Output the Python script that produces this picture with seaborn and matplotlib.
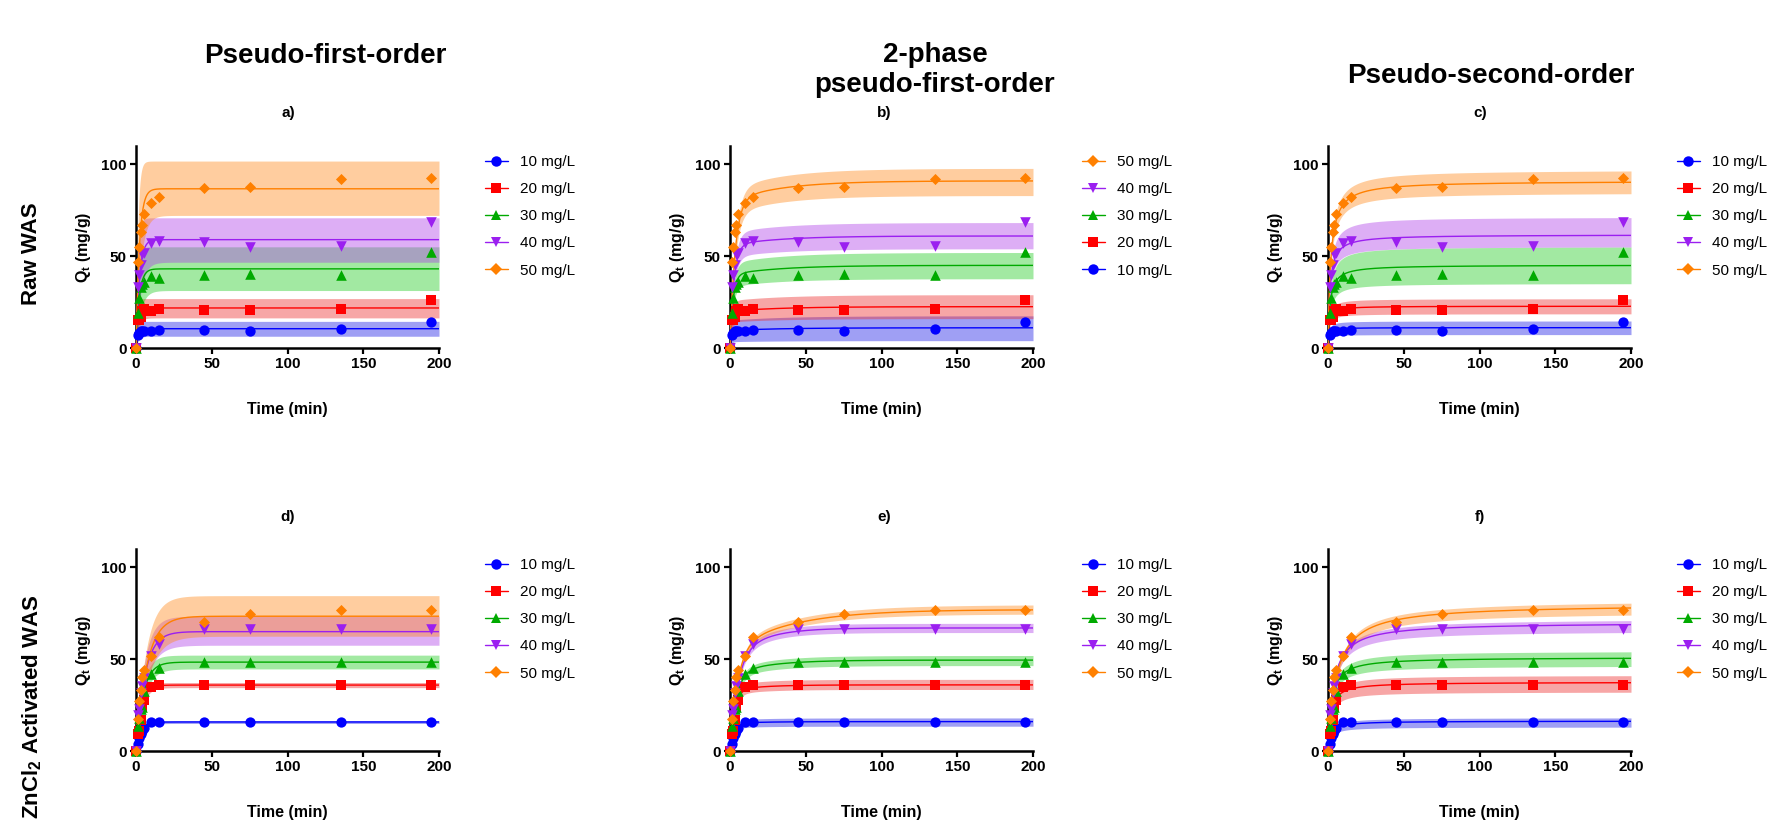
import numpy as np
import matplotlib
matplotlib.use("Agg")
import matplotlib.pyplot as plt
from matplotlib.lines import Line2D
import seaborn as sns

# ---------------- data ----------------
time_min = [0, 1, 2, 3, 4, 5, 10, 15, 45, 75, 135, 195]
conc_labels = ["10 mg/L", "20 mg/L", "30 mg/L", "40 mg/L", "50 mg/L"]

raw_10 = [0, 7, 8, 9, 9, 9.5, 9.5, 10, 10, 9.1, 10.5, 14.2]
raw_20 = [0, 15, 15.5, 17, 20, 21, 20, 21.5, 20.9, 20.9, 21.3, 26]
raw_30 = [0, 19, 27, 33, 35, 36, 39, 38.2, 39.6, 40.4, 39.6, 52.2]
raw_40 = [0, 33, 40, 45, 51, 52, 57.3, 58.2, 57.6, 55.1, 55.5, 68.7]
raw_50 = [0, 47, 55, 63, 67, 73, 79, 82.4, 87.3, 87.8, 92.2, 92.4]

act_10 = [0, 4, 7, 9, 11, 12.5, 15.8, 15.8, 15.8, 15.8, 15.8, 15.8]
act_20 = [0, 9.4, 11, 17, 24, 28, 34.8, 35.9, 35.9, 35.9, 35.9, 35.9]
act_30 = [0, 13.6, 18, 22.6, 24, 32.6, 42, 45.3, 48.4, 48.4, 48.4, 48.4]
act_40 = [0, 19.6, 22.6, 31.7, 35.3, 40, 51.6, 58.5, 66.7, 66.7, 66.7, 66.7]
act_50 = [0, 17.6, 27, 33, 40.4, 44, 52, 62.1, 70.3, 74.8, 76.6, 77]

# fitted model parameters (per concentration 10..50)
# a) pseudo-first-order, raw
pfo_raw_qe = [10.5, 21.8, 43.1, 59.0, 86.7]
pfo_raw_k = [0.9, 0.8, 0.45, 0.45, 0.45]
pfo_raw_hi = [14.5, 26.9, 55.1, 70.9, 101.8]
pfo_raw_lo = [6.4, 16.4, 31.3, 46.7, 72.2]
# b) two-phase pseudo-first-order, raw
pfo2_raw_q1 = [9.5, 20.0, 40.0, 56.0, 80.0]
pfo2_raw_k1 = [1.0, 0.8, 0.5, 0.4, 0.3]
pfo2_raw_q2 = [1.5, 2.5, 5.0, 5.0, 11.0]
pfo2_raw_k2 = [0.03, 0.03, 0.03, 0.03, 0.03]
pfo2_raw_hi = [17.5, 29.0, 52.0, 68.3, 97.8]
pfo2_raw_lo = [4.0, 16.0, 37.7, 54.0, 83.0]
# c) pseudo-second-order, raw
pso_raw_qe = [11.1, 22.8, 45.2, 61.7, 91.0]
pso_raw_k = [0.177, 0.062, 0.017, 0.0133, 0.0066]
pso_raw_hi = [14.7, 26.8, 55.0, 71.0, 96.4]
pso_raw_lo = [7.3, 18.6, 35.0, 55.0, 84.0]
# d) pseudo-first-order, ZnCl2 activated
pfo_act_qe = [15.8, 35.9, 48.4, 65.0, 73.4]
pfo_act_k = [0.3, 0.3, 0.21, 0.17, 0.14]
pfo_act_hi = [16.6, 37.3, 52.2, 73.4, 84.6]
pfo_act_lo = [15.0, 34.5, 44.7, 57.6, 62.5]
# e) two-phase pseudo-first-order, ZnCl2 activated
pfo2_act_q1 = [15.0, 33.0, 42.0, 50.0, 55.0]
pfo2_act_k1 = [0.4, 0.35, 0.25, 0.2, 0.2]
pfo2_act_q2 = [1.0, 3.0, 7.5, 17.0, 22.0]
pfo2_act_k2 = [0.05, 0.05, 0.04, 0.05, 0.025]
pfo2_act_hi = [18.0, 39.0, 52.0, 69.5, 79.5]
pfo2_act_lo = [13.5, 33.5, 46.5, 64.5, 74.5]
# f) pseudo-second-order, ZnCl2 activated
pso_act_qe = [16.3, 37.5, 51.0, 70.0, 80.0]
pso_act_k = [0.034, 0.016, 0.0092, 0.0041, 0.0023]
pso_act_hi = [18.0, 41.0, 54.0, 71.0, 80.5]
pso_act_lo = [13.0, 32.0, 46.0, 64.5, 74.0]

col_titles = ["Pseudo-first-order", "2-phase\npseudo-first-order", "Pseudo-second-order"]
panel_letters = ["a)", "b)", "c)", "d)", "e)", "f)"]
row_labels = ["Raw WAS", r"ZnCl$_\mathbf{2}$ Activated WAS"]
x_label = "Time (min)"
y_label = r"Q$_\mathbf{t}$ (mg/g)"
x_ticks = [0, 50, 100, 150, 200]
y_ticks = [0, 50, 100]

# ---------------- style ----------------
colors = ["#0000FF", "#FF0000", "#00AA00", "#9B1FF0", "#FF8000"]
band_colors = ["#1A1AE6", "#EE2B2B", "#22CC22", "#B040E8", "#FF8A1A"]
markers = ["o", "s", "^", "v", "D"]
msizes = [55, 52, 58, 58, 32]

sns.set_theme(style="ticks")
plt.rcParams["font.family"] = ["Liberation Sans", "DejaVu Sans"]
plt.rcParams["mathtext.fontset"] = "custom"
plt.rcParams["mathtext.rm"] = "Liberation Sans:bold"
plt.rcParams["mathtext.bf"] = "Liberation Sans:bold"
plt.rcParams["mathtext.it"] = "Liberation Sans:bold"
plt.rcParams["text.color"] = "black"
plt.rcParams["axes.labelcolor"] = "black"
plt.rcParams["xtick.color"] = "black"
plt.rcParams["ytick.color"] = "black"

W, H = 1771, 821
fig = plt.figure(figsize=(W / 100, H / 100), dpi=100)

t = np.linspace(0, 200, 1201)


def pfo(tt, qe, k):
    return qe * (1 - np.exp(-k * tt))


def pfo2(tt, q1, k1, q2, k2):
    return q1 * (1 - np.exp(-k1 * tt)) + q2 * (1 - np.exp(-k2 * tt))


def pso(tt, qe, k):
    return qe * qe * k * tt / (1 + qe * k * tt)


raw_data = [raw_10, raw_20, raw_30, raw_40, raw_50]
act_data = [act_10, act_20, act_30, act_40, act_50]


def curves(panel, i):
    if panel == 0:
        fit = pfo(t, pfo_raw_qe[i], pfo_raw_k[i])
        hi = pfo(t, pfo_raw_hi[i], pfo_raw_k[i] * 1.8)
        lo = pfo(t, pfo_raw_lo[i], pfo_raw_k[i] * 0.7)
    elif panel == 1:
        fit = pfo2(t, pfo2_raw_q1[i], pfo2_raw_k1[i], pfo2_raw_q2[i], pfo2_raw_k2[i])
        hi = fit * pfo2_raw_hi[i] / fit[-1]
        lo = fit * pfo2_raw_lo[i] / fit[-1]
    elif panel == 2:
        fit = pso(t, pso_raw_qe[i], pso_raw_k[i])
        hi = fit * pso_raw_hi[i] / fit[-1]
        lo = fit * pso_raw_lo[i] / fit[-1]
    elif panel == 3:
        fit = pfo(t, pfo_act_qe[i], pfo_act_k[i])
        hi = pfo(t, pfo_act_hi[i], pfo_act_k[i] * 1.1)
        lo = pfo(t, pfo_act_lo[i], pfo_act_k[i] * 0.9)
    elif panel == 4:
        fit = pfo2(t, pfo2_act_q1[i], pfo2_act_k1[i], pfo2_act_q2[i], pfo2_act_k2[i])
        hi = fit * pfo2_act_hi[i] / fit[-1]
        lo = fit * pfo2_act_lo[i] / fit[-1]
    else:
        fit = pso(t, pso_act_qe[i], pso_act_k[i])
        hi = fit * pso_act_hi[i] / fit[-1]
        lo = fit * pso_act_lo[i] / fit[-1]
    return fit, hi, lo


col_left = [136, 730, 1328]
ax_w = 303
row_top = [146, 549]
ax_h = 202
legend_x = [485, 1082, 1677]
letter_x = [288, 884, 1480]
letter_y = [113, 517]

for r in range(2):
    for c in range(3):
        panel = r * 3 + c
        ax = fig.add_axes([col_left[c] / W, 1 - (row_top[r] + ax_h) / H, ax_w / W, ax_h / H])
        data = raw_data if r == 0 else act_data
        for i in range(5):
            fit, hi, lo = curves(panel, i)
            ax.fill_between(t, lo, hi, color=band_colors[i], alpha=0.42, linewidth=0, zorder=1)
        for i in range(5):
            fit, hi, lo = curves(panel, i)
            sns.lineplot(x=t, y=fit, ax=ax, color=colors[i], linewidth=1.0, zorder=3)
        for i in range(5):
            sns.scatterplot(x=time_min, y=data[i], ax=ax, marker=markers[i], color=colors[i],
                            s=msizes[i], linewidth=0, zorder=5, clip_on=False)
        ax.set_xlim(0, 200)
        ax.set_ylim(0, 110)
        ax.set_xticks(x_ticks)
        ax.set_yticks(y_ticks)
        ax.set_xticklabels([str(v) for v in x_ticks], fontsize=11, fontweight="bold")
        ax.set_yticklabels([str(v) for v in y_ticks], fontsize=11, fontweight="bold")
        ax.tick_params(direction="out", length=4, width=1.6, pad=2.5, color="black", labelcolor="black")
        sns.despine(ax=ax)
        for sp in ["left", "bottom"]:
            ax.spines[sp].set_linewidth(1.8)
            ax.spines[sp].set_color("black")
        ax.set_xlabel(x_label, fontsize=11.5, fontweight="bold", labelpad=22)
        ax.set_ylabel(y_label, fontsize=11.5, fontweight="bold", labelpad=6)
        ax.set_facecolor("white")

        handles = [Line2D([0], [0], color=colors[i], lw=1.0, marker=markers[i],
                          markersize=7.5 if i < 4 else 6, markeredgewidth=0)
                   for i in range(5)]
        labels = list(conc_labels)
        if panel == 1:
            handles = handles[::-1]
            labels = labels[::-1]
        fig.legend(handles, labels, loc="upper left",
                   bbox_to_anchor=(legend_x[c] / W, 1 - (row_top[r] + 9) / H),
                   frameon=False, fontsize=11, handlelength=1.5, handletextpad=0.8,
                   labelspacing=0.86, borderpad=0, borderaxespad=0)

        fig.text(letter_x[c] / W, 1 - letter_y[r] / H, panel_letters[panel],
                 ha="center", va="center", fontsize=11, fontweight="bold")

# column titles
title_pos = [(325, 56), (935, 70), (1491, 76)]
for c in range(3):
    fig.text(title_pos[c][0] / W, 1 - title_pos[c][1] / H, col_titles[c], ha="center",
             va="center", fontsize=20, fontweight="bold", linespacing=1.15)

# row labels
row_pos = [(32, 254), (32, 707)]
for r in range(2):
    fig.text(row_pos[r][0] / W, 1 - row_pos[r][1] / H, row_labels[r], rotation=90,
             ha="center", va="center", fontsize=16, fontweight="bold")

fig.savefig("out.png", dpi=100, facecolor="white")
